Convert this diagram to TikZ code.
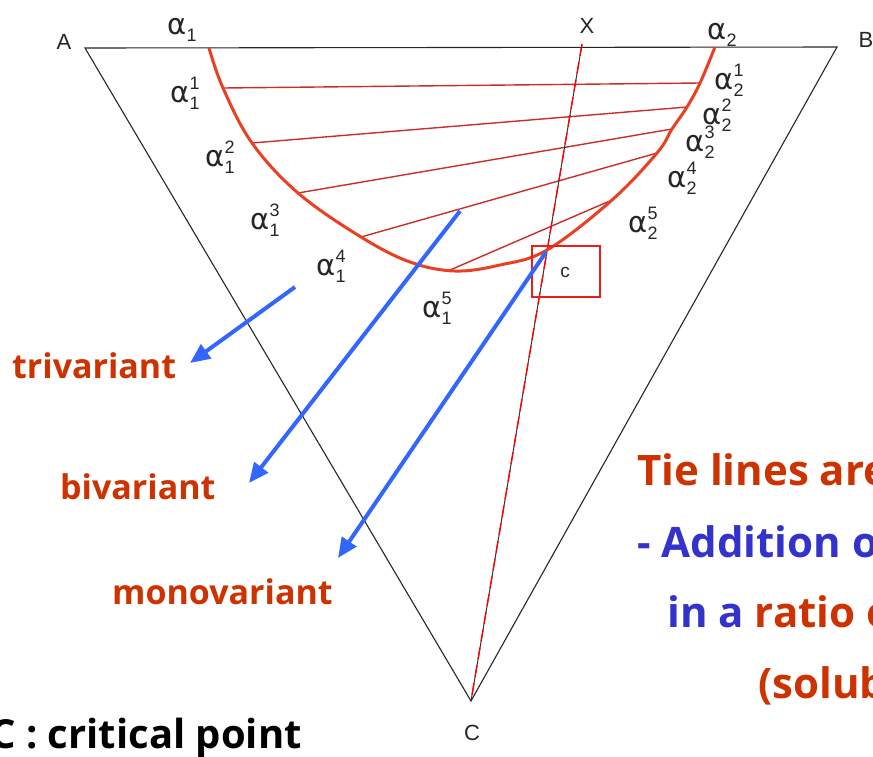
\documentclass[tikz,border=0pt]{standalone}
\usepackage{fontspec}
\setmainfont{Open Sans}
\newfontfamily\figfont{Liberation Sans}
\newfontfamily\alfont{DejaVu Sans}
\usetikzlibrary{arrows.meta}
\definecolor{txtred}{RGB}{204,51,0}
\definecolor{txtblue}{RGB}{51,51,204}
\definecolor{arrblue}{RGB}{51,102,255}
\definecolor{curvered}{RGB}{232,64,32}
\definecolor{tiered}{RGB}{205,45,40}
\definecolor{boxred}{RGB}{235,30,30}
\newcommand\alsub[2]{{\alfont\fontsize{29}{30}\selectfont α}{\figfont\fontsize{18}{19}\selectfont\rlap{\raisebox{0.72em}{#2}}\raisebox{-0.4em}{#1}}}
\begin{document}
\begin{tikzpicture}[x=1pt,y=-1pt,
  edge/.style={draw=black!85,line width=1.1pt},
  tie/.style={draw=tiered,line width=1.4pt},
  binodal/.style={draw=curvered,line width=3pt},
  arr/.style={draw=arrblue,line width=4pt,-{Triangle[length=20pt,width=17pt]}},
  lbl/.style={font=\fontsize{34}{38}\selectfont\bfseries,text=txtred,inner sep=0pt,anchor=base west},
  big/.style={font=\fontsize{42}{48}\selectfont\bfseries,inner sep=0pt,anchor=base west},
  corner/.style={font=\figfont\fontsize{22}{24}\selectfont,inner sep=0pt,text=black!85},
  alab/.style={inner sep=0pt,text=black!85},
]
\useasboundingbox (0,0) rectangle (873,756);
% triangle
\coordinate (A) at (85,48);
\coordinate (B) at (837,47);
\coordinate (C) at (471,701);
\draw[edge] (A) -- (B) -- (C) -- cycle;
% binodal curve points
\coordinate (l1) at (223,88);
\coordinate (l2) at (252,143);
\coordinate (l3) at (298,193);
\coordinate (l4) at (361,237);
\coordinate (l5) at (450,270);
\coordinate (r5) at (612,200);
\coordinate (r4) at (657,153);
\coordinate (r3) at (672,129);
\coordinate (r2) at (687,107);
\coordinate (r1) at (700,83);
% tie lines
\draw[tie] (l1) -- (r1);
\draw[tie] (l2) -- (r2);
\draw[tie] (l3) -- (r3);
\draw[tie] (l4) -- (r4);
\draw[tie] (l5) -- (r5);
% line from X to C
\coordinate (xtop) at (582,44);
\draw[black!80,line width=1pt] (xtop) -- (C);
\draw[red,line width=1.4pt,dash pattern=on 12pt off 6pt] (xtop) -- (C);
% binodal
\draw[binodal] plot[smooth,tension=0.6] coordinates {(209,48) (223,88) (252,143) (298,193) (361,237) (410,262) (455,271) (500,265) (547,250) (612,200) (657,153) (672,129) (687,107) (700,83) (715,47)};
% critical box
\draw[boxred,line width=1.5pt] (532,246) rectangle (600,297);
\node[corner,font=\figfont\fontsize{19}{20}\selectfont] (cbox) at (565,272) {c};
% corner labels
\node[corner] (lA) at (64,42) {A};
\node[corner] (lB) at (866,40) {B};
\node[corner] (lX) at (587,26) {X};
\node[corner] (lC) at (472,733) {C};
% alpha labels
\node[alab] (a1) at (182,30) {\alsub{1}{}};
\node[alab] (a11) at (185,93) {\alsub{1}{1}};
\node[alab] (a12) at (220,157) {\alsub{1}{2}};
\node[alab] (a13) at (265,220) {\alsub{1}{3}};
\node[alab] (a14) at (331,266) {\alsub{1}{4}};
\node[alab] (a15) at (437,308) {\alsub{1}{5}};
\node[alab] (a2) at (722,35) {\alsub{2}{}};
\node[alab] (a21) at (729,80) {\alsub{2}{1}};
\node[alab] (a22) at (717,115) {\alsub{2}{2}};
\node[alab] (a23) at (700,142) {\alsub{2}{3}};
\node[alab] (a24) at (682,178) {\alsub{2}{4}};
\node[alab] (a25) at (643,223) {\alsub{2}{5}};
% text labels
\node[lbl] (tri) at (12,378) {trivariant};
\node[lbl] (biv) at (60,499) {bivariant};
\node[lbl] (mon) at (112,604) {monovariant};
% arrows
\coordinate (s1) at (295,287);
\coordinate (s2) at (460,211);
\coordinate (s3) at (546,252);
\coordinate (t1) at (190,363);
\coordinate (t2) at (249,483);
\coordinate (t3) at (338,558);
\draw[arr] (s1) -- (t1);
\draw[arr] (s2) -- (t2);
\draw[arr] (s3) -- (t3);
% bottom note
\node[big,anchor=base east,font=\fontsize{40}{46}\selectfont\bfseries] (crit) at (302,748) {C : critical point};
% right texts
\node[big,text=txtred] (t1txt) at (637,485) {Tie lines are};
\node[big,text=txtblue] (t2txt) at (637,557) {- Addition of};
\node[big] (t3txt) at (667,627) {\textcolor{txtblue}{in a} \textcolor{txtred}{ratio of}};
\node[big,text=txtred] (t4txt) at (758,698) {(solubility};
\end{tikzpicture}
\end{document}
